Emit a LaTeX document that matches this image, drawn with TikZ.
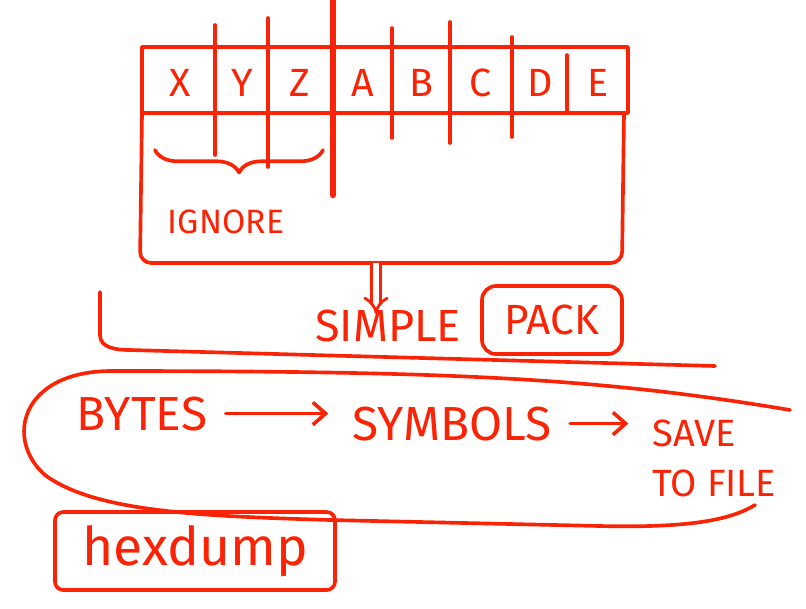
\documentclass[tikz,border=0pt]{standalone}
\usepackage{fontspec}
\setmainfont{Fira Sans}
\usetikzlibrary{arrows.meta,positioning,decorations.pathreplacing}
\definecolor{pen}{RGB}{250,35,5}
\tikzset{ink/.style={draw=pen,line width=2.6pt,line cap=round,line join=round}}
\tikzset{cell/.style={text=pen,inner sep=0pt,font=\fontsize{28}{30}\selectfont}}
\tikzset{word/.style={text=pen,inner sep=3pt,font=\fontsize{34}{36}\selectfont}}
\tikzset{toArrow/.style={ink,-{Straight Barb[length=9pt,width=16pt]},shorten <=10pt,shorten >=14pt}}
\tikzset{dblArrow/.style={draw=pen,line width=2pt,double=white,double distance=4pt,-{Implies}}}

\begin{document}
\begin{tikzpicture}[x=0.025cm,y=-0.025cm]
\useasboundingbox (0,0) rectangle (806,608);
% table of fields
\draw[ink] (142,47) rectangle (628,113);
\draw[ink,rounded corners=8pt] (142,113) -- (140,263) -- (622,263) -- (624,113);
\foreach \x/\top/\bot in {215/25/155, 268/18/167, 392/28/138, 450/22/143, 512/37/137, 567/55/113}
	\draw[ink] (\x,\top) -- (\x,\bot);
\draw[ink,line width=4.5pt] (333,0) -- (333,195);
\foreach \x/\name/\txt in {180/x/X, 242/y/Y, 300/z/Z, 363/a/A, 421/b/B, 481/c/C, 540/d/D, 598/e/E}
	\node (\name) [cell] at (\x,83) {\txt};
\coordinate (tb) at (376,263);
% ignored part
\draw[ink,decorate,decoration={brace,mirror,amplitude=16pt}] (155,150) -- (323,150);
\node (ignore) [cell,font=\fontsize{24}{26}\selectfont] at (226,222) {IGNORE};
% packing
\node (simple) [word,font=\fontsize{32}{34}\selectfont] at (388,326) {SIMPLE};
\node (pack) [word,font=\fontsize{30}{32}\selectfont,draw=pen,line width=2.6pt,rounded corners=10pt,minimum width=3.5cm,minimum height=1.7cm] at (552,320) {PACK};
\draw[dblArrow] (tb) -- ([yshift=-6pt]tb |- simple.north);
\draw[ink] (100,292) -- (100,335) to[out=-90,in=180] (130,350) -- (715,366);
% pipeline
\node (bytes) [word,anchor=base] at (142,430) {BYTES};
\node (symbols) [word,anchor=base] at (452,440) {SYMBOLS};
\node (save) [word,font=\fontsize{27}{36}\selectfont,align=left,anchor=north west] at (648,415) {SAVE\\TO FILE};
\draw[toArrow] (bytes.east) -- (bytes.east -| symbols.west);
\draw[toArrow] (symbols.east) -- (symbols.east -| save.west);
\draw[ink] (790,410) .. controls (600,378) and (450,371) .. (110,371) .. controls (20,372) and (5,440) .. (45,475) .. controls (95,512) and (200,516) .. (330,520) -- (600,526) .. controls (690,528) and (730,520) .. (755,505);
% tool
\node (hexdump) [word,font=\fontsize{38}{40}\selectfont,draw=pen,line width=2.6pt,rounded corners=6pt,minimum width=7cm,minimum height=1.95cm] at (195,551) {hexdump};
\end{tikzpicture}
\end{document}
